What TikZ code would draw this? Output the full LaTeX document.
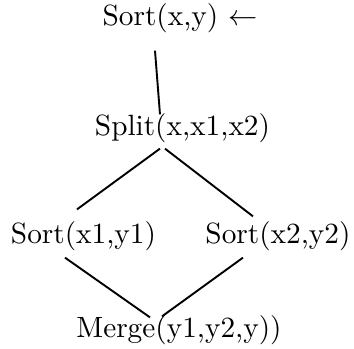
\documentclass[tikz,border=0pt]{standalone}
\usepackage{tikz}
\usetikzlibrary{calc}

\begin{document}
\begin{tikzpicture}[
  x=0.3413pt, y=-0.3413pt,
  font=\normalsize,
  goal/.style={inner sep=0pt, align=center},
  link/.style={line width=0.65pt, black},
  ]
\useasboundingbox (0,0) rectangle (354,348);
% goals of the sort program
\node[goal] (sxy)   at (180,18)   {Sort(x,y) $\leftarrow$};
\node[goal] (split) at (182.5,128) {Split(x,x1,x2)};
\node[goal] (sa)    at (83.5,236) {Sort(x1,y1)};
\node[goal] (sb)    at (278,236)  {Sort(x2,y2)};
\node[goal] (merge) at (179,330)  {Merge(y1,y2,y))};
% links
\draw[link] ([shift={(-25,17.4)}]sxy.south) -- ([shift={(-22.5,1.6)}]split.north);
\draw[link] ([shift={(-22.5,5.4)}]split.south) -- ([shift={(-6.5,-11.4)}]sa.north);
\draw[link] ([shift={(-17.5,5.4)}]split.south) -- ([shift={(-25,-4.4)}]sb.north);
\draw[link] ([shift={(-18.5,6.4)}]sa.south) -- ([shift={(-29,2.6)}]merge.north);
\draw[link] ([shift={(-35,6.4)}]sb.south) -- ([shift={(-17,1.6)}]merge.north);
\end{tikzpicture}
\end{document}
